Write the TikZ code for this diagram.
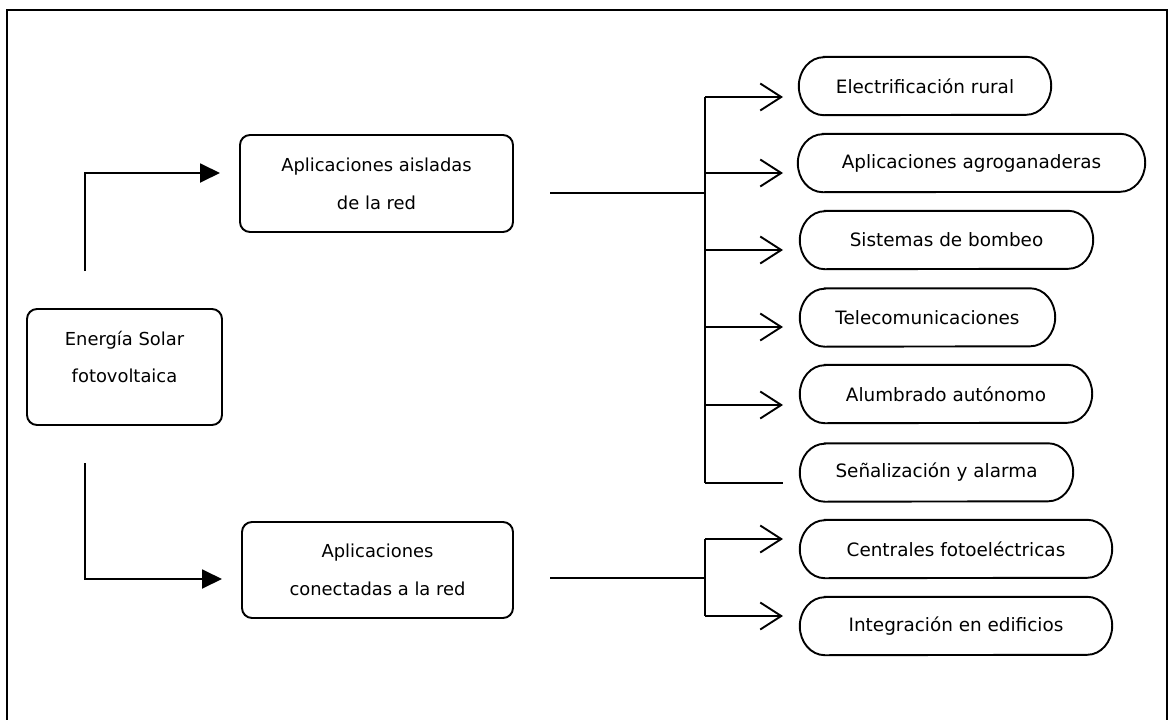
\documentclass[tikz,border=0pt]{standalone}
\usepackage{fontspec}
\setmainfont{DejaVu Sans}
\usetikzlibrary{arrows.meta}
\newcommand\pillnode[5]{%
  \node[pill, minimum width=#4pt] (#1) at (#2,#3) {#5};
  \draw[lw] ([xshift=25pt]#1.north west) -- ([xshift=-25pt]#1.north east)
    arc[start angle=90,end angle=-90,x radius=25pt,y radius=29pt]
    -- ([xshift=25pt]#1.south west)
    arc[start angle=270,end angle=90,x radius=25pt,y radius=29pt] -- cycle;}
\begin{document}
\begin{tikzpicture}[x=1pt,y=-1pt,
  lw/.style={line width=1.9pt},
  bigbox/.style={draw, line width=1.9pt, rounded corners=10pt, align=center,
    font=\fontsize{17.9}{38}\selectfont, inner sep=0pt},
  boxtext/.style={align=center, font=\fontsize{17.9}{37}\selectfont, inner sep=0pt},
  pill/.style={inner sep=0pt, minimum height=58pt, font=\fontsize{18.4}{20}\selectfont},
  solidarrow/.style={lw, -{Triangle[length=20pt,width=19pt]}},
  openarrow/.style={lw, -{Straight Barb[length=21pt,width=27pt,line width=1.9pt]}},
]
\useasboundingbox (0,0) rectangle (1173,720);
\fill[white] (0,0) rectangle (1173,720);
% frame
\draw[line width=2.2pt] (7,722) -- (7,10) -- (1167,10) -- (1167,722);

% main boxes
\node[bigbox, minimum width=195pt, minimum height=116pt] (src) at (124.5,367) {};
\node[boxtext] (srct) at (124.5,356.5) {Energía Solar\\fotovoltaica};
\node[bigbox, minimum width=273pt, minimum height=97pt] (a1) at (376.5,183.5) {Aplicaciones aisladas\\de la red};
\node[bigbox, minimum width=271pt, minimum height=96pt] (a2) at (377.5,570) {Aplicaciones\\conectadas a la red};

% pills
\pillnode{e1}{925}{86}{252}{Electrificación rural}
\pillnode{e2}{971.5}{163}{347}{Aplicaciones agroganaderas}
\pillnode{e3}{946.5}{240}{293}{Sistemas de bombeo}
\pillnode{e4}{927.5}{317.5}{255}{Telecomunicaciones}
\pillnode{e5}{946}{394}{292}{Alumbrado autónomo}
\pillnode{e6}{936.5}{472.5}{273}{Señalización y alarma}
\pillnode{e7}{956}{549}{312}{Centrales fotoeléctricas}
\pillnode{e8}{956}{626}{312}{Integración en edificios}

% main connectors
\coordinate (s1) at (85,271);
\coordinate (s2) at (85,463);
\coordinate (t1) at (220,173);
\coordinate (t2) at (222,579);
\draw[solidarrow] (s1) |- (t1);
\draw[solidarrow] (s2) |- (t2);

% tree 1
\coordinate (h1) at (550,193);
\coordinate (j1) at (705,193);
\draw[lw] (h1) -- (j1);
\foreach \i/\y in {1/97,2/173,3/250,4/327,5/405,6/483}{
  \coordinate (b\i) at (705,\y);
  \coordinate (p\i) at (783,\y);
}
\draw[lw] (b1) -- (b6);
\foreach \i in {1,...,5}{\draw[openarrow] (b\i) -- (p\i);}
\draw[lw] (b6) -- (p6);

% tree 2
\coordinate (h2) at (550,578);
\coordinate (j2) at (705,578);
\coordinate (b7) at (705,539);
\coordinate (p7) at (783,539);
\coordinate (b8) at (705,616);
\coordinate (p8) at (783,616);
\draw[lw] (h2) -- (j2);
\draw[lw] (b7) -- (b8);
\draw[openarrow] (b7) -- (p7);
\draw[openarrow] (b8) -- (p8);
\end{tikzpicture}
\end{document}
